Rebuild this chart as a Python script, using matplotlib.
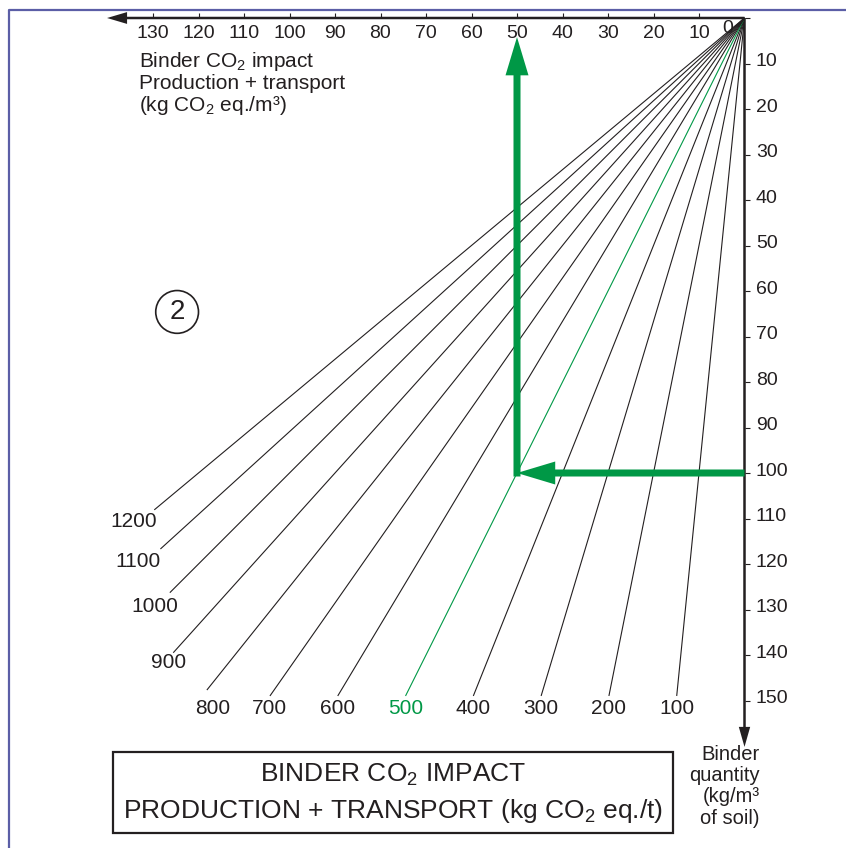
import matplotlib
matplotlib.use('Agg')
import matplotlib.pyplot as plt
from matplotlib.patches import Circle, Rectangle
from matplotlib import transforms

plt.rcParams['font.family'] = ['Liberation Sans', 'DejaVu Sans']
plt.rcParams['mathtext.fontset'] = 'custom'
plt.rcParams['mathtext.rm'] = 'Liberation Sans'

# binder CO2 impact, production + transport (kg CO2 eq./t)
factors = [100, 200, 300, 400, 500, 600, 700, 800, 900, 1000, 1100, 1200]
# binder quantity (kg/m3) where each ray stops
ray_end = [149, 149, 149, 149, 149, 149, 149, 147.7, 139.5, 126.3, 116.7, 108.1]
highlight = 500      # kg CO2 eq./t
example_qty = 100    # kg/m3 of soil
impact_ticks = list(range(10, 140, 10))   # kg CO2 eq./m3
qty_ticks = list(range(10, 160, 10))      # kg/m3

BLACK = '#231f20'
GREEN = '#009846'
FRAME = '#5b5ea6'

W, H = 846, 848
fig = plt.figure(figsize=(W / 100, H / 100), dpi=100)
ax = fig.add_axes([0, 0, 1, 1])
s = 4.55  # pixels per unit, same on both axes
ax.set_xlim(744.5 / s, (744.5 - W) / s)
ax.set_ylim((H - 18) / s, -18 / s)
ax.axis('off')

# transform for layout items given in image pixels (top-left origin)
pix = transforms.Affine2D().scale(1 / W, -1 / H).translate(0, 1) + fig.transFigure

# outer frame
ax.plot([8.5, 8.5, W + 5], [H + 5, 9.5, 9.5], transform=pix, color=FRAME,
        lw=1.6, clip_on=False)

# rays
label_off = [(0, -13)] * 7 + [(6, -18), (-5, -10), (-15, -14), (-22, -13), (-21, -12)]
for f, q, off in zip(factors, ray_end, label_off):
    col = GREEN if f == highlight else BLACK
    xe = f * q / 1000
    ax.plot([0, xe], [0, q], color=col, lw=0.8, solid_capstyle='butt')
    ax.annotate(str(f), xy=(xe, q), xytext=off, textcoords='offset pixels',
                ha='center', va='center', fontsize=15, color=col)

# axes with arrows
ax.arrow(0, 0, 140.1, 0, width=0.55, head_width=2.6, head_length=4.4,
         length_includes_head=True, fc=BLACK, ec='none', lw=0)
ax.arrow(0, 0, 0, 160.2, width=0.55, head_width=2.5, head_length=4.4,
         length_includes_head=True, fc=BLACK, ec='none', lw=0)
ax.vlines(impact_ticks, -1.15, 0, color=BLACK, lw=0.8)
ax.hlines([0] + qty_ticks, 0, -1.3, color=BLACK, lw=0.8)
for t in impact_ticks:
    ax.text(t, 3.4, str(t), ha='center', va='center', fontsize=14, color=BLACK)
ax.text(3.8, 2.4, '0', ha='center', va='center', fontsize=14, color=BLACK)
for q in qty_ticks:
    ax.text(-2.5, q - 0.4, str(q), ha='left', va='center', fontsize=14, color=BLACK)

# example reading: 100 kg/m3 of a 500 kg CO2/t binder
xr = example_qty * highlight / 1000
ax.arrow(0, example_qty, xr, 0, width=1.54, head_width=5.05, head_length=8.4,
         length_includes_head=True, fc=GREEN, ec='none', lw=0, zorder=5)
ax.arrow(xr, example_qty + 0.77, 0, 4.2 - example_qty - 0.77, width=1.54,
         head_width=5.05, head_length=8.4, length_includes_head=True,
         fc=GREEN, ec='none', lw=0, zorder=5)

# section marker
ax.add_patch(Circle((124.7, 64.6), 4.7, fill=False, ec=BLACK, lw=1.2))
ax.text(124.7, 64.6, '2', ha='center', va='center', fontsize=20, color=BLACK)

# axis titles
ax.text(139, 50, 'Binder CO$_\\mathregular{2}$ impact\nProduction + transport\n'
        '(kg CO$_\\mathregular{2}$ eq./m³)', transform=pix, fontsize=15,
        ha='left', va='top', linespacing=1.05, color=BLACK)
ax.text(760, 745, 'Binder\nquantity\n(kg/m³\nof soil)', transform=pix,
        fontsize=14.5, ha='right', va='top', multialignment='right',
        linespacing=1.15, color=BLACK)

# boxed title for the ray family
ax.add_patch(Rectangle((113, 752), 560, 81, transform=pix, fill=False,
                       ec=BLACK, lw=1.6))
ax.text(393, 781, 'BINDER CO$_\\mathregular{2}$ IMPACT', transform=pix,
        ha='center', va='baseline', fontsize=19, color=BLACK)
ax.text(393, 818, 'PRODUCTION + TRANSPORT (kg CO$_\\mathregular{2}$ eq./t)',
        transform=pix, ha='center', va='baseline', fontsize=19, color=BLACK)

fig.savefig('out.png', dpi=100)
